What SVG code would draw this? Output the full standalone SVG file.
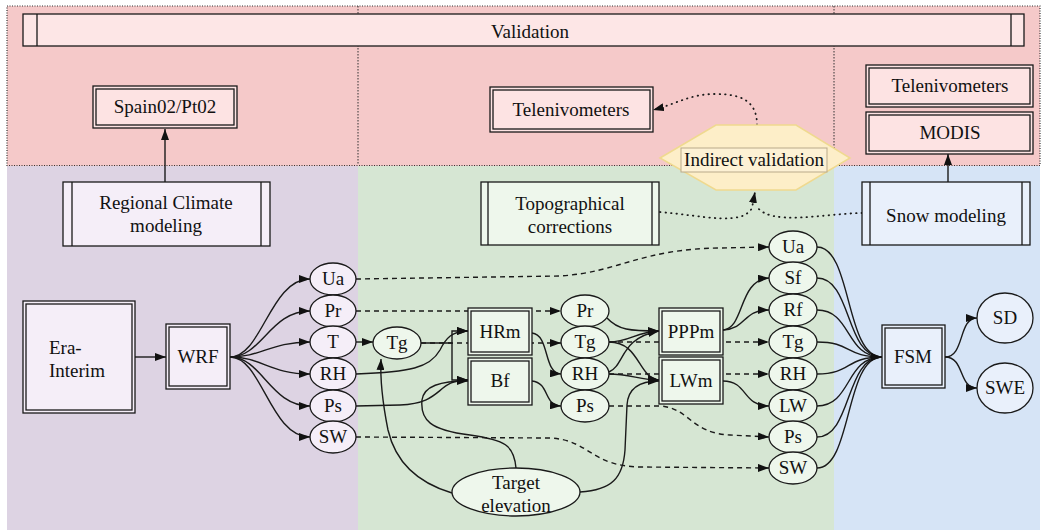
<svg xmlns="http://www.w3.org/2000/svg" width="1044" height="530" viewBox="0 0 1044 530">
<style>
text { font-family: "Liberation Serif", "Times New Roman", serif; font-size: 19px; text-anchor: middle; fill: #111; }
.s { stroke: #1a1a1a; stroke-width: 1.3; }
.e { fill: none; stroke: #1a1a1a; stroke-width: 1.4; }
.d { stroke-dasharray: 5 4; }
.dot { stroke-dasharray: 0.5 5; stroke-linecap: round; stroke-width: 1.8; }
.pk { fill: #fde3e3; }
.pu { fill: #f5eef8; }
.gr { fill: #eef7ec; }
.bl { fill: #e9f0fb; }
</style>
<defs>
<marker id="ah" markerWidth="11" markerHeight="8" refX="11" refY="4" orient="auto" markerUnits="userSpaceOnUse">
<path d="M0,0 L11,4 L0,8 z" fill="#111"/>
</marker>
</defs>
<rect width="1044" height="530" fill="#ffffff"/>
<rect x="7" y="6" width="1033" height="160" fill="#f5c9c9"/>
<rect x="7" y="166" width="351" height="364" fill="#ddd3e3"/>
<rect x="358" y="166" width="476" height="364" fill="#d6e6d3"/>
<rect x="834" y="166" width="206" height="364" fill="#d6e4f6"/>
<rect x="7" y="6" width="1033" height="159.5" fill="none" stroke="#333" stroke-width="1.2" stroke-dasharray="1 1.5"/>
<path d="M358,6 V165 M834,6 V165" stroke="#333" stroke-width="1" stroke-dasharray="1.5 1.5" fill="none"/>

<g id="validation">
<rect x="23" y="14" width="1001" height="32" fill="#fde6e6" class="s"/>
<path d="M37,14 V46 M1011,14 V46" class="s"/>
<text x="530" y="38">Validation</text>
</g>

<g id="connectors">
<path class="e" d="M135,357 L166,357" marker-end="url(#ah)"/>
<path class="e" d="M230,357 C262,357 270,279 310,279" marker-end="url(#ah)"/>
<path class="e" d="M230,357 C262,357 270,311 310,311" marker-end="url(#ah)"/>
<path class="e" d="M230,357 C262,357 270,342 310,342" marker-end="url(#ah)"/>
<path class="e" d="M230,357 C262,357 270,374 310,374" marker-end="url(#ah)"/>
<path class="e" d="M230,357 C262,357 270,406 310,406" marker-end="url(#ah)"/>
<path class="e" d="M230,357 C262,357 270,437 310,437" marker-end="url(#ah)"/>
<path class="e" d="M356,342 L373,342" marker-end="url(#ah)"/>
<path class="e d" d="M421,343 L561,343" marker-end="url(#ah)"/>
<path class="e" d="M421,343 L452,343 L452,331 L468,331" marker-end="url(#ah)"/>
<path class="e" d="M452,343 L452,380 L468,380" marker-end="url(#ah)"/>
<path class="e" d="M356,374 C410,372 430,368 440,350 C446,338 452,331 468,331" marker-end="url(#ah)"/>
<path class="e" d="M356,406 L400,405 C445,403 435,380 468,380" marker-end="url(#ah)"/>
<path class="e" d="M452,493 C415,482 395,460 388,430 C383,405 380,380 381,359" marker-end="url(#ah)"/>
<path class="e" d="M516,468 C514,445 505,440 470,435 C430,430 420,420 422,400 C424,386 440,381 468,381" marker-end="url(#ah)"/>
<path class="e d" d="M356,311 L561,311" marker-end="url(#ah)"/>
<path class="e d" d="M356,279 L560,276 C620,272 640,249 720,248 L769,247" marker-end="url(#ah)"/>
<path class="e d" d="M356,437 L550,438 C590,440 590,466 640,467 L769,468" marker-end="url(#ah)"/>
<path class="e" d="M532,333 C550,335 543,373 561,374" marker-end="url(#ah)"/>
<path class="e" d="M532,381 C550,383 543,405 561,406" marker-end="url(#ah)"/>
<path class="e" d="M607,318 C618,330 630,331 659,331" marker-end="url(#ah)"/>
<path class="e" d="M609,342 C630,342 635,332 659,331" marker-end="url(#ah)"/>
<path class="e" d="M609,372 C625,365 620,338 659,331" marker-end="url(#ah)"/>
<path class="e" d="M609,342 C640,342 638,378 659,380" marker-end="url(#ah)"/>
<path class="e" d="M609,374 C630,374 640,380 659,380" marker-end="url(#ah)"/>
<path class="e" d="M580,492 C612,490 623,478 625,450 L627,405 C628,388 640,381 659,381" marker-end="url(#ah)"/>
<path class="e d" d="M609,342 L769,342" marker-end="url(#ah)"/>
<path class="e d" d="M609,374 L769,374" marker-end="url(#ah)"/>
<path class="e d" d="M609,406 L660,406 C690,408 690,433 730,435 L769,437" marker-end="url(#ah)"/>
<path class="e" d="M723,330 C745,328 738,280 769,278" marker-end="url(#ah)"/>
<path class="e" d="M723,330 C748,328 742,310 769,310" marker-end="url(#ah)"/>
<path class="e" d="M723,381 C748,381 742,406 769,406" marker-end="url(#ah)"/>
<path class="e" d="M817,247 C852,247 845,357 882,357"/>
<path class="e" d="M817,278 C852,278 845,357 882,357"/>
<path class="e" d="M817,310 C852,310 845,357 882,357"/>
<path class="e" d="M817,342 C852,342 845,357 882,357"/>
<path class="e" d="M817,374 C852,374 845,357 882,357"/>
<path class="e" d="M817,406 C852,406 845,357 882,357"/>
<path class="e" d="M817,437 C852,437 845,357 882,357"/>
<path class="e" d="M817,468 C852,468 845,357 882,357" marker-end="url(#ah)"/>
<path class="e" d="M945,357 C965,357 958,318 977,318" marker-end="url(#ah)"/>
<path class="e" d="M945,357 C965,357 958,388 977,388" marker-end="url(#ah)"/>
<path class="e" d="M165,182 L165,129" marker-end="url(#ah)"/>
<path class="e" d="M948,182 L948,154" marker-end="url(#ah)"/>
<path class="e dot" d="M660,212 C705,216 742,226 752,208 L755,192" marker-end="url(#ah)"/>
<path class="e dot" d="M862,213 C820,214 772,226 757,207"/>
<path class="e dot" d="M757,125 C757,100 740,94 715,94 C690,94 676,104 653,110" marker-end="url(#ah)"/>
</g>

<g id="spain02">
<rect x="93" y="86" width="144" height="42" class="pk s"/>
<rect x="96" y="89" width="138" height="36" fill="none" class="s"/>
<text x="165" y="113">Spain02/Pt02</text>
</g>
<g id="telenivometers-mid">
<rect x="490" y="87" width="163" height="45" class="pk s"/>
<rect x="493" y="90" width="157" height="39" fill="none" class="s"/>
<text x="571" y="116">Telenivometers</text>
</g>
<g id="telenivometers-right">
<rect x="866" y="65" width="167" height="42" class="pk s"/>
<rect x="869" y="68" width="161" height="36" fill="none" class="s"/>
<text x="950" y="92">Telenivometers</text>
</g>
<g id="modis">
<rect x="866" y="112" width="167" height="42" class="pk s"/>
<rect x="869" y="115" width="161" height="36" fill="none" class="s"/>
<text x="950" y="139">MODIS</text>
</g>
<g id="indirect-validation">
<polygon points="660,158 716,125 796,125 850,158 796,190 716,190" fill="#fdeec8" stroke="#efd98f" stroke-width="1.5"/>
<rect x="681" y="148" width="146" height="24" fill="#fdf1d4" stroke="#b9a98a" stroke-width="1"/>
<text x="754" y="166">Indirect validation</text>
</g>

<g id="regional-climate">
<rect x="63" y="182" width="207" height="64" class="pu s"/>
<path d="M72,182 V246 M261,182 V246" class="s"/>
<text x="166" y="209">Regional Climate</text>
<text x="166" y="232">modeling</text>
</g>
<g id="topographical">
<rect x="481" y="182" width="178" height="63" class="gr s"/>
<path d="M488,182 V245 M652,182 V245" class="s"/>
<text x="570" y="210">Topographical</text>
<text x="570" y="233">corrections</text>
</g>
<g id="snow-modeling">
<rect x="862" y="182" width="168" height="63" class="bl s"/>
<path d="M870,182 V245 M1022,182 V245" class="s"/>
<text x="946" y="222">Snow modeling</text>
</g>

<g id="era-interim">
<rect x="23" y="301" width="112" height="112" class="pu s"/>
<rect x="26" y="304" width="106" height="106" fill="none" class="s"/>
<text x="49" y="354" style="text-anchor:start">Era-</text>
<text x="49" y="377" style="text-anchor:start">Interim</text>
</g>
<g id="wrf">
<rect x="166" y="324" width="64" height="65" class="pu s"/>
<rect x="169" y="327" width="58" height="59" fill="none" class="s"/>
<text x="198" y="363">WRF</text>
</g>

<g id="ua1"><ellipse cx="333" cy="279" rx="23" ry="16" class="pu s"/><text x="333" y="285">Ua</text></g>
<g id="pr1"><ellipse cx="333" cy="311" rx="23" ry="16" class="pu s"/><text x="333" y="317">Pr</text></g>
<g id="t1"><ellipse cx="333" cy="342" rx="23" ry="16" class="pu s"/><text x="333" y="348">T</text></g>
<g id="rh1"><ellipse cx="333" cy="374" rx="23" ry="16" class="pu s"/><text x="333" y="380">RH</text></g>
<g id="ps1"><ellipse cx="333" cy="406" rx="23" ry="16" class="pu s"/><text x="333" y="412">Ps</text></g>
<g id="sw1"><ellipse cx="333" cy="437" rx="23" ry="16" class="pu s"/><text x="333" y="443">SW</text></g>

<g id="tg0"><ellipse cx="397" cy="343" rx="24" ry="16" class="gr s"/><text x="397" y="349">Tg</text></g>
<g id="hrm">
<rect x="468" y="308" width="64" height="47" class="gr s"/>
<rect x="471" y="311" width="58" height="41" fill="none" class="s"/>
<text x="500" y="338">HRm</text>
</g>
<g id="bf">
<rect x="468" y="358" width="64" height="47" class="gr s"/>
<rect x="471" y="361" width="58" height="41" fill="none" class="s"/>
<text x="500" y="387">Bf</text>
</g>
<g id="pr2"><ellipse cx="585" cy="311" rx="24" ry="16" class="gr s"/><text x="585" y="317">Pr</text></g>
<g id="tg2"><ellipse cx="585" cy="342" rx="24" ry="16" class="gr s"/><text x="585" y="348">Tg</text></g>
<g id="rh2"><ellipse cx="585" cy="374" rx="24" ry="16" class="gr s"/><text x="585" y="380">RH</text></g>
<g id="ps2"><ellipse cx="585" cy="406" rx="24" ry="16" class="gr s"/><text x="585" y="412">Ps</text></g>
<g id="pppm">
<rect x="659" y="308" width="64" height="47" class="gr s"/>
<rect x="662" y="311" width="58" height="41" fill="none" class="s"/>
<text x="691" y="338">PPPm</text>
</g>
<g id="lwm">
<rect x="659" y="357" width="64" height="47" class="gr s"/>
<rect x="662" y="360" width="58" height="41" fill="none" class="s"/>
<text x="691" y="387">LWm</text>
</g>
<g id="target-elevation">
<ellipse cx="516" cy="492" rx="64" ry="24" class="gr s"/>
<text x="516" y="489">Target</text>
<text x="516" y="512">elevation</text>
</g>

<g id="ua3"><ellipse cx="793" cy="247" rx="24" ry="16" class="gr s"/><text x="793" y="253">Ua</text></g>
<g id="sf3"><ellipse cx="793" cy="278" rx="24" ry="16" class="gr s"/><text x="793" y="284">Sf</text></g>
<g id="rf3"><ellipse cx="793" cy="310" rx="24" ry="16" class="gr s"/><text x="793" y="316">Rf</text></g>
<g id="tg3"><ellipse cx="793" cy="342" rx="24" ry="16" class="gr s"/><text x="793" y="348">Tg</text></g>
<g id="rh3"><ellipse cx="793" cy="374" rx="24" ry="16" class="gr s"/><text x="793" y="380">RH</text></g>
<g id="lw3"><ellipse cx="793" cy="406" rx="24" ry="16" class="gr s"/><text x="793" y="412">LW</text></g>
<g id="ps3"><ellipse cx="793" cy="437" rx="24" ry="16" class="gr s"/><text x="793" y="443">Ps</text></g>
<g id="sw3"><ellipse cx="793" cy="468" rx="24" ry="16" class="gr s"/><text x="793" y="474">SW</text></g>

<g id="fsm">
<rect x="882" y="325" width="63" height="63" class="bl s"/>
<rect x="885" y="328" width="57" height="57" fill="none" class="s"/>
<text x="913" y="363">FSM</text>
</g>
<g id="sd"><ellipse cx="1005" cy="318" rx="28" ry="25" class="bl s"/><text x="1005" y="324">SD</text></g>
<g id="swe"><ellipse cx="1005" cy="388" rx="28" ry="25" class="bl s"/><text x="1005" y="394">SWE</text></g>
</svg>
